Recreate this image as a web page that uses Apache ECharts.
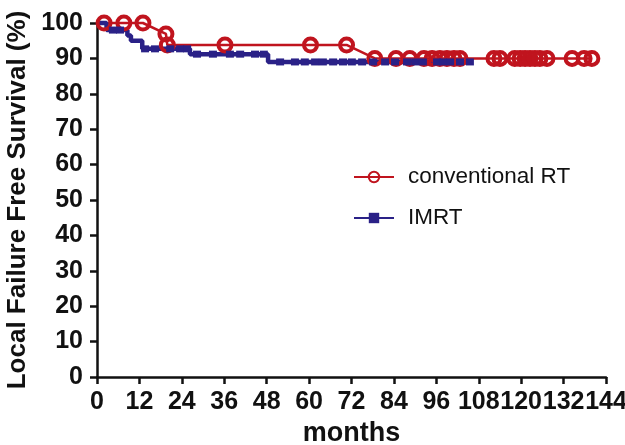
<!DOCTYPE html>
<html>
<head>
<meta charset="utf-8">
<script src="https://cdn.jsdelivr.net/npm/echarts@6/dist/echarts.min.js"></script>
<style>
  html, body { margin: 0; padding: 0; background: #fff; }
  #chart { width: 625px; height: 445px; }
</style>
</head>
<body>
<div id="chart"></div>
<script>
// conventional RT: months, survival (%), censored mark
const rtMonths = [0, 2.0, 7.6, 13.0, 19.5, 19.9, 36.2, 60.4, 70.6, 78.6, 84.6, 88.5, 92.5, 94.8, 97.0, 99.0, 101.0, 102.7, 112.3, 114.0, 118.2, 119.7, 121.1, 122.5, 123.9, 125.3, 127.3, 134.4, 137.8, 140.0]
const rtSurvival = [100, 100, 100, 100, 96.9, 93.8, 93.8, 93.8, 93.8, 90, 90, 90, 90, 90, 90, 90, 90, 90, 90, 90, 90, 90, 90, 90, 90, 90, 90, 90, 90, 90]
const rtCensored = [0, 1, 1, 1, 1, 1, 1, 1, 1, 1, 1, 1, 1, 1, 1, 1, 1, 1, 1, 1, 1, 1, 1, 1, 1, 1, 1, 1, 1, 1]

// IMRT: months, survival (%), censored mark
const imrtMonths = [0, 2.7, 4.5, 6.5, 8.6, 9.6, 12.8, 13.6, 16.4, 20.7, 23.5, 25.5, 26.3, 28.3, 32.8, 37.6, 40.5, 44.7, 47.2, 48.4, 51.8, 56.0, 58.8, 61.7, 63.9, 66.8, 69.6, 72.1, 75.0, 78.1, 81.5, 84.3, 87.7, 90.0, 92.2, 96.2, 97.9, 99.9, 102.7, 105.5]
const imrtSurvival = [100, 98, 98, 98, 96.5, 95, 92.7, 92.7, 92.7, 92.7, 92.7, 92.7, 91.2, 91.2, 91.2, 91.2, 91.2, 91.2, 91.2, 89, 89, 89, 89, 89, 89, 89, 89, 89, 89, 89, 89, 89, 89, 89, 89, 89, 89, 89, 89, 89]
const imrtCensored = [0, 0, 1, 1, 0, 0, 0, 1, 1, 1, 1, 1, 0, 1, 1, 1, 1, 1, 1, 0, 1, 1, 1, 1, 1, 1, 1, 1, 1, 1, 1, 1, 1, 1, 1, 1, 1, 1, 1, 1]

const xTicks = { min: 0, max: 144, interval: 12 }
const yTicks = { min: 0, max: 100, interval: 10 }

const red = '#c0141e'
const blue = '#2a2187'
const font = '"Liberation Sans", Arial, sans-serif'

const rtData = rtMonths.map((m, i) => ({
  value: [m, rtSurvival[i]],
  symbol: rtCensored[i] ? 'circle' : 'none',
}))
const imrtData = imrtMonths.map((m, i) => ({
  value: [m, imrtSurvival[i]],
  symbol: imrtCensored[i] ? 'rect' : 'none',
}))

const chart = echarts.init(document.getElementById('chart'))

const axisCommon = {
  type: 'value',
  splitLine: { show: false },
  axisLine: { show: true, lineStyle: { color: '#111', width: 2.5 } },
  axisTick: { show: true, length: 7, lineStyle: { color: '#111', width: 2.5 } },
}

chart.setOption({
  animation: false,
  grid: { left: 97, right: 19, top: 23, bottom: 68, containLabel: false, outerBoundsMode: 'none' },
  legend: {
    orient: 'vertical',
    left: 353,
    top: 165,
    padding: 0,
    itemWidth: 40,
    itemHeight: 13,
    itemGap: 17,
    textStyle: {
      fontFamily: font,
      fontSize: 22.5,
      color: '#111',
      lineHeight: 24,
      padding: [0, 0, 0, 9],
    },
    data: ['conventional RT', 'IMRT'],
  },
  xAxis: {
    ...axisCommon,
    ...xTicks,
    name: 'months',
    nameLocation: 'middle',
    nameGap: 41,
    nameTextStyle: { fontFamily: font, fontWeight: 'bold', fontSize: 27, color: '#111' },
    axisLabel: { fontFamily: font, fontWeight: 'bold', fontSize: 25, color: '#111', margin: 13, showMaxLabel: true, showMinLabel: true },
  },
  yAxis: {
    ...axisCommon,
    ...yTicks,
    name: 'Local Failure Free Survival (%)',
    nameLocation: 'middle',
    nameRotate: 90,
    nameGap: 63,
    nameTextStyle: { fontFamily: font, fontWeight: 'bold', fontSize: 26, color: '#111' },
    axisLabel: { fontFamily: font, fontWeight: 'bold', fontSize: 25, color: '#111', margin: 14 },
  },
  series: [
    {
      name: 'conventional RT',
      type: 'line',
      data: rtData,
      clip: false,
      symbol: 'circle',
      symbolSize: 13,
      lineStyle: { color: red, width: 2.5 },
      itemStyle: { color: 'rgba(255,255,255,0)', borderColor: red, borderWidth: 4 },
    },
    {
      name: 'IMRT',
      type: 'line',
      step: 'end',
      data: imrtData,
      clip: false,
      symbol: 'rect',
      symbolSize: [8, 7],
      lineStyle: { color: blue, width: 4.5 },
      itemStyle: { color: blue },
    },
  ],
})
</script>
</body>
</html>
